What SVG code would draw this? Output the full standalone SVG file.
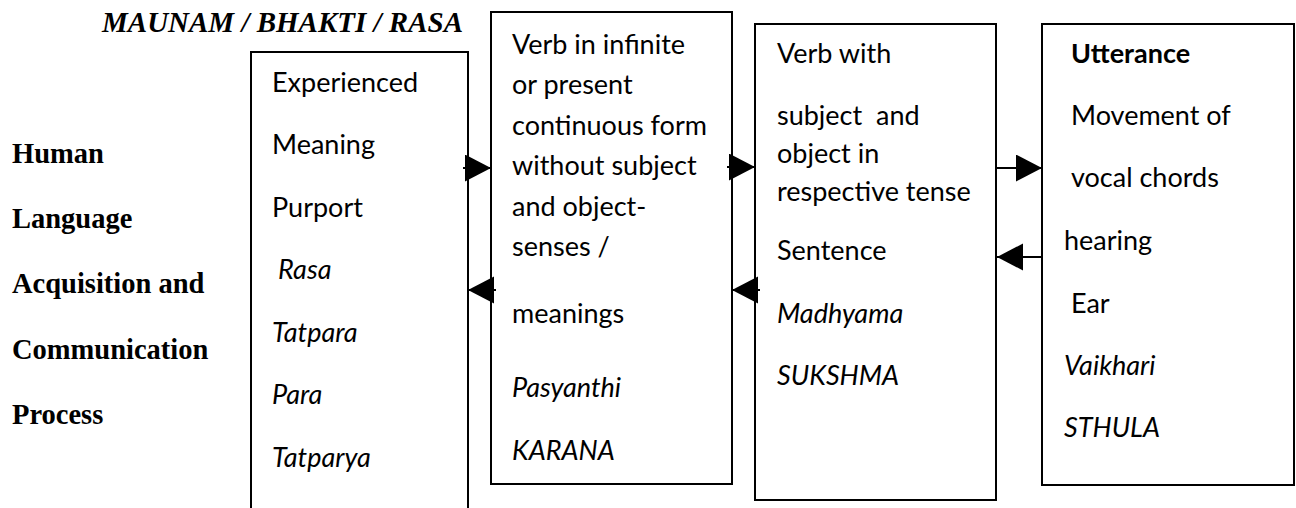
<svg xmlns="http://www.w3.org/2000/svg" width="1296" height="508" viewBox="0 0 1296 508">
  <style>
    .box { fill: #ffffff; stroke: #000000; stroke-width: 2; }
    .t { font-family: Lato, "Open Sans", sans-serif; font-size: 27px; fill: #000000; white-space: pre; }
    .i { font-style: italic; }
    .b { font-weight: bold; }
    .side { font-family: "Liberation Serif", "Times New Roman", serif; font-weight: bold; font-size: 28.5px; fill: #000000; }
    .title { font-family: "Liberation Serif", "Times New Roman", serif; font-weight: bold; font-style: italic; font-size: 29px; fill: #000000; }
    .conn { stroke: #000000; stroke-width: 2; fill: none; marker-end: url(#head); }
  </style>
  <defs>
    <marker id="head" markerUnits="userSpaceOnUse" markerWidth="27" markerHeight="28" refX="26" refY="13.5" orient="auto">
      <path d="M0,0 L26,13.5 L0,27 Z" fill="#000000"/>
    </marker>
  </defs>

  <rect width="1296" height="508" fill="#ffffff"/>

  <!-- heading and side caption -->
  <text class="title" x="102" y="32">MAUNAM / BHAKTI / RASA</text>
  <g id="caption">
    <text class="side" x="12" y="163">Human</text>
    <text class="side" x="12" y="228">Language</text>
    <text class="side" x="12" y="293">Acquisition and</text>
    <text class="side" x="12" y="359">Communication</text>
    <text class="side" x="12" y="424">Process</text>
  </g>

  <!-- Para level -->
  <g id="para">
    <rect class="box" x="251" y="52" width="217" height="470"/>
    <text class="t" x="272" y="92">Experienced</text>
    <text class="t" x="272" y="154">Meaning</text>
    <text class="t" x="272" y="217">Purport</text>
    <text class="t i" x="278" y="279">Rasa</text>
    <text class="t i" x="272" y="342">Tatpara</text>
    <text class="t i" x="272" y="404">Para</text>
    <text class="t i" x="272" y="467">Tatparya</text>
  </g>

  <!-- Pasyanthi level -->
  <g id="pasyanthi">
    <rect class="box" x="491" y="12" width="241" height="472"/>
    <text class="t" x="512" y="54">Verb in infinite</text>
    <text class="t" x="512" y="94">or present</text>
    <text class="t" x="512" y="135">continuous form</text>
    <text class="t" x="512" y="175">without subject</text>
    <text class="t" x="512" y="216">and object-</text>
    <text class="t" x="512" y="256">senses /</text>
    <text class="t" x="512" y="323">meanings</text>
    <text class="t i" x="512" y="397">Pasyanthi</text>
    <text class="t i" x="512" y="460">KARANA</text>
  </g>

  <!-- Madhyama level -->
  <g id="madhyama">
    <rect class="box" x="755" y="24" width="241" height="476"/>
    <text class="t" x="777" y="63">Verb with</text>
    <text class="t" x="777" y="125" xml:space="preserve">subject  and</text>
    <text class="t" x="777" y="163">object in</text>
    <text class="t" x="777" y="201">respective tense</text>
    <text class="t" x="777" y="260">Sentence</text>
    <text class="t i" x="777" y="323">Madhyama</text>
    <text class="t i" x="777" y="385">SUKSHMA</text>
  </g>

  <!-- Vaikhari level -->
  <g id="vaikhari">
    <rect class="box" x="1042" y="24" width="252" height="461"/>
    <text class="t b" x="1071" y="63">Utterance</text>
    <text class="t" x="1071" y="125">Movement of</text>
    <text class="t" x="1071" y="187">vocal chords</text>
    <text class="t" x="1064" y="250">hearing</text>
    <text class="t" x="1071" y="313">Ear</text>
    <text class="t i" x="1064" y="375">Vaikhari</text>
    <text class="t i" x="1064" y="437">STHULA</text>
  </g>

  <!-- connectors -->
  <g id="connectors">
    <line class="conn" x1="463" y1="168" x2="491" y2="168"/>
    <line class="conn" x1="496" y1="290" x2="468" y2="290"/>
    <line class="conn" x1="727" y1="167" x2="755" y2="167"/>
    <line class="conn" x1="760" y1="290" x2="732" y2="290"/>
    <line class="conn" x1="996" y1="168" x2="1042" y2="168"/>
    <line class="conn" x1="1042" y1="257" x2="997" y2="257"/>
  </g>
</svg>
